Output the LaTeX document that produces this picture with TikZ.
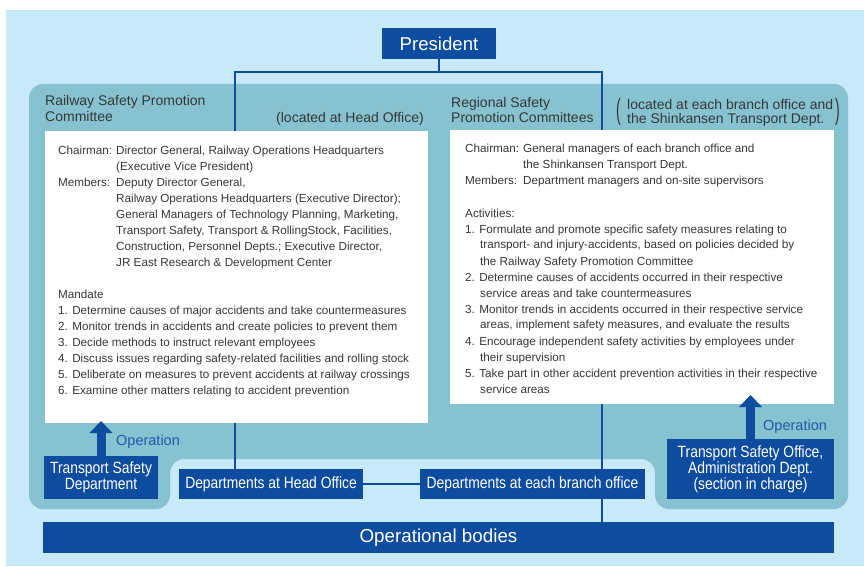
\documentclass[tikz,border=0pt]{standalone}
\usepackage{fontspec}
\setmainfont{Liberation Sans}
\newfontfamily\condfont[FakeStretch=0.85]{Liberation Sans}
\usetikzlibrary{arrows.meta}
\definecolor{bgblue}{RGB}{199,233,248}
\definecolor{panel}{RGB}{134,194,208}
\definecolor{dblue}{RGB}{14,76,160}
\definecolor{txt}{RGB}{55,55,55}
\definecolor{opblue}{RGB}{30,90,170}
\pgfdeclarelayer{bg}
\pgfdeclarelayer{lines}
\pgfsetlayers{bg,lines,main}
\newcommand{\lbl}[1]{\makebox[58pt][l]{#1}}
\newcommand{\ind}{\hspace*{58pt}}
\newcommand{\cnt}{\hspace*{15pt}}
\begin{document}
\begin{tikzpicture}[x=1pt,y=-1pt,
  dbox/.style={fill=dblue, text=white, inner sep=0pt, align=center, font=\condfont\fontsize{16.3}{16}\selectfont},
  wbox/.style={fill=white, inner sep=0pt},
  conn/.style={draw=dblue, line width=2.4pt},
  body/.style={anchor=base west, inner sep=0pt, text=txt, font=\fontsize{11.7}{16}\selectfont},
  title/.style={anchor=base west, inner sep=0pt, text=txt, font=\fontsize{14}{16}\selectfont},
  oplabel/.style={anchor=base west, inner sep=0pt, text=opblue, font=\fontsize{14.5}{16}\selectfont},
  oparrow/.style={draw=dblue, line width=9pt, -{Triangle[width=23pt,length=12pt,line width=0pt]}}]
\useasboundingbox (0,0) rectangle (864,567);
\begin{pgfonlayer}{bg}
\fill[white] (0,0) rectangle (864,567);
\fill[bgblue] (6,10) rectangle (864,566);
\fill[panel, rounded corners=14pt] (29,84) -- (848,84) -- (848,509) -- (655,509) -- (655,459) -- (170,459) -- (170,509) -- (29,509) -- cycle;
\end{pgfonlayer}

% boxes
\node[dbox, minimum width=114pt, minimum height=31pt, font=\fontsize{18.6}{20}\selectfont] (p) at (439,43.5) {President};
\node[wbox, minimum width=383pt, minimum height=292pt] (lw) at (236.5,277) {};
\node[wbox, minimum width=384pt, minimum height=274pt] (rw) at (642,267) {};
\node[dbox, minimum width=114pt, minimum height=43pt, font=\condfont\fontsize{16.3}{16}\selectfont] (tsd) at (101,477.5) {Transport Safety\\Department};
\node[dbox, minimum width=184pt, minimum height=30pt] (dho) at (271,484) {Departments at Head Office};
\node[dbox, minimum width=225pt, minimum height=30pt] (dbo) at (532.5,484) {Departments at each branch office};
\node[dbox, minimum width=167pt, minimum height=60pt, font=\condfont\fontsize{16.3}{15}\selectfont] (tso) at (750.5,469) {Transport Safety Office,\\Administration Dept.\\(section in charge)};
\node[dbox, minimum width=791pt, minimum height=31pt, font=\fontsize{18.8}{20}\selectfont] (ob) at (438.5,537.5) {Operational bodies};

% connectors
\coordinate (jP) at (439,72);
\coordinate (jL) at (235,72);
\coordinate (jR) at (602,72);
\begin{pgfonlayer}{lines}
\draw[conn] (p.south) -- (jP);
\draw[conn] (jL |- dho.north) -- (jL) -- (jR) -- (jR |- ob.north);
\draw[conn] (dho.east) -- (dbo.west);
\end{pgfonlayer}

% titles
\node[title] (t1) at (45,106) {\parbox[t]{220pt}{\baselineskip=16pt Railway Safety Promotion\\Committee}};
\node[title, anchor=base east] (t1b) at (424,122) {(located at Head Office)};
\node[title] (t2) at (451,107.5) {\parbox[t]{160pt}{\baselineskip=14.5pt Regional Safety\\Promotion Committees}};
\node[title] (t2b) at (627,110) {\parbox[t]{215pt}{\baselineskip=14pt located at each branch office and\\the Shinkansen Transport Dept.}};
\node[title, anchor=center] (lp) at (618.5,112) {\scalebox{1}[2.1]{(}};
\node[title, anchor=center] (rp) at (837.5,112) {\scalebox{1}[2.1]{)}};

% body texts
\node[body] (lt) at (58,154) {\parbox[t]{375pt}{\baselineskip=16pt
\lbl{Chairman:}Director General, Railway Operations Headquarters\\
\ind(Executive Vice President)\\
\lbl{Members:}Deputy Director General,\\
\ind Railway Operations Headquarters (Executive Director);\\
\ind General Managers of Technology Planning, Marketing,\\
\ind Transport Safety, Transport \& RollingStock, Facilities,\\
\ind Construction, Personnel Depts.; Executive Director,\\
\ind JR East Research \& Development Center\\[16pt]
Mandate\\
1. Determine causes of major accidents and take countermeasures\\
2. Monitor trends in accidents and create policies to prevent them\\
3. Decide methods to instruct relevant employees\\
4. Discuss issues regarding safety-related facilities and rolling stock\\
5. Deliberate on measures to prevent accidents at railway crossings\\
6. Examine other matters relating to accident prevention}};

\node[body] (rt) at (465,153) {\parbox[t]{380pt}{\baselineskip=16pt
\lbl{Chairman:}General managers of each branch office and\\
\ind the Shinkansen Transport Dept.\\
\lbl{Members:}Department managers and on-site supervisors\\[16pt]
Activities:\\
1. Formulate and promote specific safety measures relating to\\
\cnt transport- and injury-accidents, based on policies decided by\\
\cnt the Railway Safety Promotion Committee\\
2. Determine causes of accidents occurred in their respective\\
\cnt service areas and take countermeasures\\
3. Monitor trends in accidents occurred in their respective service\\
\cnt areas, implement safety measures, and evaluate the results\\
4. Encourage independent safety activities by employees under\\
\cnt their supervision\\
5. Take part in other accident prevention activities in their respective\\
\cnt service areas}};

% operation arrows
\coordinate (tipL) at (101,421);
\coordinate (tipR) at (750.5,395);
\draw[oparrow] (tsd.north) -- (tipL);
\draw[oparrow] (tso.north) -- (tipR);
\node[oplabel] (opL) at (116,445) {Operation};
\node[oplabel] (opR) at (763,430) {Operation};
\end{tikzpicture}
\end{document}
